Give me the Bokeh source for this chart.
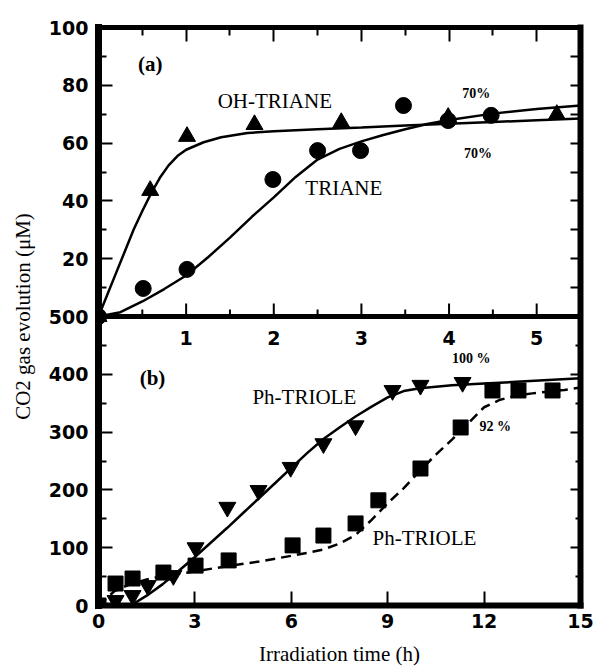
from bokeh.plotting import figure
from bokeh.models import Range1d, LinearAxis, FixedTicker, Span
from bokeh.core.properties import value
from bokeh.embed import file_html
from bokeh.resources import INLINE

# ---------------- panel (a): 0-5.5 h, 0-100 uM ----------------
XA_MAX = 5.5
YA_MAX = 100
xa_major = [1, 2, 3, 4, 5]
xa_minor = [0.5, 1.5, 2.5, 3.5, 4.5]
xa_labels = ["1", "2", "3", "4", "5"]
ya_major = [20, 40, 60, 80, 100]
ya_minor = [10, 30, 50, 70, 90]

oh_x = [0, 0.59, 1.01, 1.78, 2.77, 3.99, 5.23]
oh_y = [0, 43.6, 62.3, 66.4, 67.1, 68.9, 69.9]
tr_x = [0, 0.51, 1.01, 1.99, 2.50, 2.99, 3.48, 3.99, 4.48]
tr_y = [0, 9.7, 16.3, 47.4, 57.4, 57.4, 73.0, 67.8, 69.6]

oh_fit_x = [0, 0.1, 0.2, 0.3, 0.4, 0.5, 0.6, 0.7, 0.8, 0.9, 1.0, 1.2, 1.4, 1.7,
            2.0, 2.5, 3.0, 3.5, 4.0, 4.5, 5.0, 5.5]
oh_fit_y = [0, 7.5, 15, 22.5, 30, 36.5, 42.6, 48, 52.3, 55.5, 57.7, 60.3, 62, 63.5,
            64.1, 64.8, 65.4, 66.1, 66.7, 67.3, 67.9, 68.5]
tr_fit_x = [0, 0.25, 0.5, 0.75, 1.0, 1.25, 1.5, 1.75, 2.0, 2.25, 2.5, 2.75, 3.0,
            3.25, 3.5, 3.75, 4.0, 4.5, 5.0, 5.5]
tr_fit_y = [0, 1.5, 5.2, 9.5, 14.2, 20.5, 27.3, 34.5, 41.2, 48.3, 54.3, 58, 60.6,
            62.8, 64.8, 66.6, 68, 70.2, 71.8, 73]

# ---------------- panel (b): 0-15 h, 0-500 uM ----------------
XB_MAX = 15
YB_MAX = 500
xb_major = [0, 3, 6, 9, 12, 15]
yb_major = [0, 100, 200, 300, 400, 500]
yb_minor = [50, 150, 250, 350, 450]

pt_x = [0.53, 1.06, 1.53, 2.33, 3.02, 4.01, 4.98, 5.98, 7.0, 8.0, 9.15, 10.02, 11.33]
pt_y = [8.7, 17.3, 34.6, 51.9, 100, 170, 199, 239, 280, 311, 372, 381, 386]
ps_x = [0, 0.53, 1.06, 2.02, 3.02, 4.05, 6.04, 7.0, 8.0, 8.71, 10.02, 11.27, 12.26, 13.07, 14.13]
ps_y = [0, 38, 46.7, 57, 69, 78, 104, 121, 142, 182, 237, 308, 372, 372, 372]

pt_fit_x = [1.0, 1.5, 2.0, 2.5, 3.0, 3.5, 4.0, 4.5, 5.0, 5.5, 6.0, 6.5, 7.0, 7.5,
            8.0, 8.5, 9.0, 9.5, 10.0, 11.0, 12.0, 13.0, 14.0, 15.0]
pt_fit_y = [0, 17, 37, 60, 84, 109, 134, 160, 186, 212, 238, 264, 288, 308,
            327, 344, 360, 371, 376, 381, 384, 387, 390, 393]
ps_fit_x = [0, 0.5, 1.0, 1.5, 2.0, 2.5, 3.0, 4.0, 5.0, 6.0, 6.5, 7.0, 7.5, 8.0,
            8.5, 9.0, 9.5, 10.0, 10.5, 11.0, 11.5, 12.0, 12.5, 13.0, 13.5, 14.0, 14.5, 15.0]
ps_fit_y = [0, 25, 37, 45, 51, 55, 59, 68, 76, 86, 91, 97, 107, 122,
            148, 177, 203, 233, 261, 287, 315, 343, 356, 363, 367, 370, 373, 377]

# ---------------- figure ----------------
FRAME_H = 578
SERIF = "Liberation Serif"
SANS = "DejaVu Sans"

# main range: 0..YB_MAX is panel (b); YB_MAX..2*YB_MAX is panel (a)
p = figure(width=594, height=668, output_backend="svg", toolbar_location=None,
           x_range=Range1d(0, XB_MAX), y_range=Range1d(0, 2 * YB_MAX),
           min_border_left=98, min_border_right=14, min_border_top=27, min_border_bottom=63)
p.extra_x_ranges = {"xa": Range1d(0, XA_MAX)}
p.extra_y_ranges = {"ya": Range1d(-YA_MAX, YA_MAX)}
p.grid.visible = False
p.outline_line_color = None
p.background_fill_color = "white"
p.border_fill_color = "white"

scale_ab = YB_MAX / YA_MAX


def style_axis(ax, lw):
    ax.axis_line_width = lw
    ax.axis_line_cap = "square"
    ax.axis_line_color = "black"
    ax.major_tick_line_color = "black"
    ax.minor_tick_line_color = "black"
    ax.major_tick_out = 0
    ax.minor_tick_out = 0
    ax.major_tick_line_width = 2
    ax.minor_tick_line_width = 2
    ax.major_label_text_font = SANS
    ax.major_label_text_font_style = "bold"
    ax.major_label_text_font_size = "19px"
    ax.major_label_text_color = "black"
    ax.axis_label_text_font = SERIF
    ax.axis_label_text_font_style = "normal"
    ax.axis_label_text_font_size = "21px"
    ax.axis_label_text_color = "black"


def hide_labels(ax, ticks):
    ax.major_label_overrides = {t: "" for t in ticks}
    ax.major_label_text_color = None
    ax.major_label_standoff = 0


# left axis: panel (b) ticks below, panel (a) ticks above
left = p.yaxis[0]
left.ticker = FixedTicker(ticks=yb_major + [YB_MAX + v * scale_ab for v in ya_major],
                          minor_ticks=yb_minor + [YB_MAX + v * scale_ab for v in ya_minor])
left.major_label_overrides = {YB_MAX + v * scale_ab: str(v) for v in ya_major}
style_axis(left, 7)
left.major_tick_in = 14
left.minor_tick_in = 8
left.major_label_standoff = 10
left.axis_label = "CO2 gas evolution (μM)"
left.axis_label_standoff = 11

# bottom axis
bottom = p.xaxis[0]
bottom.ticker = FixedTicker(ticks=xb_major, minor_ticks=[])
style_axis(bottom, 6)
bottom.major_tick_in = 14
bottom.major_label_standoff = 8
bottom.axis_label = "Irradiation time (h)"
bottom.axis_label_standoff = 11

# top axis (panel a)
top = LinearAxis(x_range_name="xa", ticker=FixedTicker(ticks=xa_major, minor_ticks=xa_minor))
style_axis(top, 5)
top.major_tick_in = 14
top.minor_tick_in = 8
hide_labels(top, xa_major)
p.add_layout(top, "above")

# right axis
right_major = yb_major + [YB_MAX + v * scale_ab for v in ya_minor + ya_major]
right = LinearAxis(ticker=FixedTicker(ticks=right_major, minor_ticks=yb_minor))
style_axis(right, 6)
right.major_tick_in = 10
right.minor_tick_in = 5
hide_labels(right, right_major)
p.add_layout(right, "right")

# middle separator line
p.add_layout(Span(location=YB_MAX, dimension="width", line_color="black", line_width=5))

# ticks and labels of panel (a) x axis along the separator
px_per_ya = FRAME_H / 2 / YA_MAX
p.segment(x0=xa_major, x1=xa_major, y0=[0] * len(xa_major), y1=[13 / px_per_ya] * len(xa_major),
          x_range_name="xa", y_range_name="ya", line_color="black", line_width=2)
p.segment(x0=xa_minor, x1=xa_minor, y0=[0] * len(xa_minor), y1=[7 / px_per_ya] * len(xa_minor),
          x_range_name="xa", y_range_name="ya", line_color="black", line_width=2)
p.text(x=xa_major, y=[0] * len(xa_major), text=xa_labels, x_range_name="xa", y_range_name="ya",
       y_offset=21, text_font=value(SANS), text_font_style="bold", text_font_size="19px",
       text_align="center", text_baseline="middle", text_color="black")

# ---- panel (a) data ----
p.line(oh_fit_x, oh_fit_y, x_range_name="xa", y_range_name="ya", line_color="black", line_width=2.5)
p.line(tr_fit_x, tr_fit_y, x_range_name="xa", y_range_name="ya", line_color="black", line_width=2.5)
p.scatter(oh_x, oh_y, marker="triangle", size=17, x_range_name="xa", y_range_name="ya",
          fill_color="black", line_color="black")
p.scatter(tr_x, tr_y, marker="circle", size=16, x_range_name="xa", y_range_name="ya",
          fill_color="black", line_color="black")

# ---- panel (b) data ----
p.line(pt_fit_x, pt_fit_y, line_color="black", line_width=2.5)
p.line(ps_fit_x, ps_fit_y, line_color="black", line_width=2.5, line_dash="10 6")
p.scatter(pt_x, pt_y, marker="inverted_triangle", size=17, fill_color="black", line_color="black")
p.scatter(ps_x, ps_y, marker="square", size=15, fill_color="black", line_color="black")


# ---- annotations ----
def txt(x, y, s, size, bold=False, align="left", rx=None, ry=None):
    kw = {}
    if rx:
        kw["x_range_name"] = rx
    if ry:
        kw["y_range_name"] = ry
    p.text(x=[x], y=[y], text=[s], text_font=value(SERIF),
           text_font_style="bold" if bold else "normal", text_font_size=size,
           text_align=align, text_baseline="middle", text_color="black", **kw)


txt(0.59, 87.5, "(a)", "21px", True, "center", "xa", "ya")
txt(1.36, 74.7, "OH-TRIANE", "21px", False, "left", "xa", "ya")
txt(2.36, 44.3, "TRIANE", "21px", False, "left", "xa", "ya")
txt(4.15, 77.2, "70%", "14px", True, "left", "xa", "ya")
txt(4.17, 56.4, "70%", "14px", True, "left", "xa", "ya")

txt(1.68, 394, "(b)", "21px", True, "center")
txt(4.79, 360, "Ph-TRIOLE", "21px")
txt(8.53, 116, "Ph-TRIOLE", "21px")
txt(11.0, 427, "100 %", "14px", True)
txt(11.86, 310, "92 %", "14px", True)

open("out.html", "w").write(file_html(p, INLINE))
